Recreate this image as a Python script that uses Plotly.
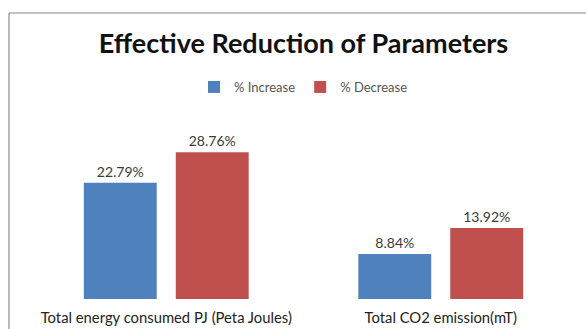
import plotly.graph_objects as go

categories = ["Total energy consumed PJ (Peta Joules)", "Total CO2 emission(mT)"]
series_names = ["% Increase", "% Decrease"]
increase = [22.79, 8.84]
decrease = [28.76, 13.92]
colors = ["#4F81BD", "#C0504D"]

fig = go.Figure()
for name, vals, col in zip(series_names, [increase, decrease], colors):
    fig.add_trace(go.Bar(
        x=categories, y=vals, name=name, marker=dict(color=col, line=dict(width=0)),
        text=[f"{v:.2f}%" for v in vals], textposition="outside",
        textfont=dict(family="Lato", size=14, color="#3a3a3a"),
        cliponaxis=False,
    ))

W, H = 586, 329
ml, mr, mt, mb = 29, 8, 95, 30
pw, ph = W - ml - mr, H - mt - mb

# chart border: top and left edges only (the rest runs past the picture)
x0 = (9 - ml) / pw
y1 = (H - mb - 13) / ph
xr = (W - ml) / pw  # right edge of the paper
border = dict(color="#8a8a8a", width=1.2)
fig.add_shape(type="line", xref="paper", yref="paper", x0=x0, x1=xr, y0=y1, y1=y1, line=border)
fig.add_shape(type="line", xref="paper", yref="paper", x0=x0, x1=x0, y0=-mb / ph, y1=y1, line=border)

fig.update_layout(
    width=W, height=H,
    margin=dict(l=ml, r=mr, t=mt, b=mb, autoexpand=False),
    paper_bgcolor="white", plot_bgcolor="white",
    barmode="group", bargap=0.33, bargroupgap=0.207,
    title=dict(text="<b>Effective Reduction of Parameters</b>", x=0.5, xref="paper", xanchor="center",
               y=1 - 44 / H, yref="container", yanchor="middle",
               font=dict(family="Lato", size=27, color="#111111")),
    legend=dict(orientation="h", x=0.5, xanchor="center", xref="paper",
                y=1 - 87 / H, yref="container", yanchor="middle",
                font=dict(family="Lato", size=13, color="#555555"),
                itemclick=False, bgcolor="rgba(0,0,0,0)"),
    xaxis=dict(showline=False, showgrid=False, zeroline=False, ticks="outside", ticklen=5,
               tickcolor="rgba(0,0,0,0)",
               tickfont=dict(family="Lato", size=14.8, color="#222222")),
    yaxis=dict(range=[0, 40], visible=False, showgrid=False, zeroline=False),
    showlegend=True,
)

fig.write_html("out.html", config={"displayModeBar": False})
